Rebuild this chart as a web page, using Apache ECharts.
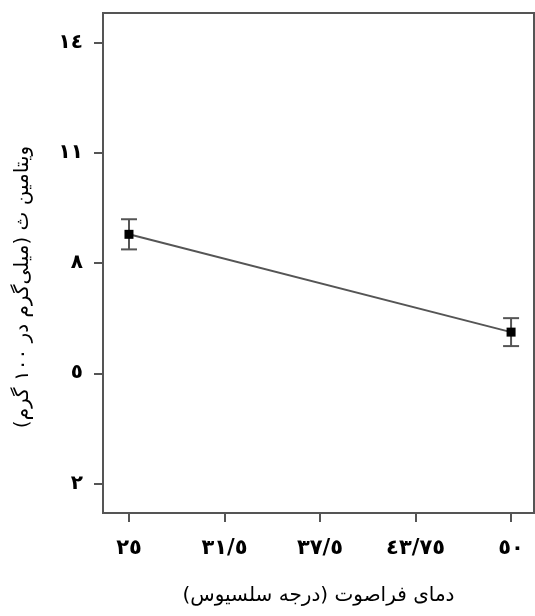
<!DOCTYPE html>
<html>
<head>
<meta charset="utf-8">
<script src="https://cdn.jsdelivr.net/npm/echarts@6/dist/echarts.min.js"></script>
<style>
html, body { margin: 0; padding: 0; background: #fff; }
#chart { width: 535px; height: 616px; }
</style>
</head>
<body>
<div id="chart"></div>
<script>
// داده‌ها
var temps = [25, 50];
var vitC = [8.78, 6.12];
var vitErr = [0.41, 0.38];
var xTicks = [25, 31.25, 37.5, 43.75, 50];
var xTickLabels = ['٢٥', '٣١/٥', '٣٧/٥', '٤٣/٧٥', '٥٠'];
var yTicks = [2, 5, 8, 11, 14];
var yTickLabels = ['٢', '٥', '٨', '١١', '١٤'];
var xTitle = '\u200Fدمای فراصوت (درجه سلسیوس)\u200F';
var yTitle = '\u200Fویتامین ث (میلی‌گرم در ۱۰۰ گرم)\u200F';

var gray = '#555';
var lineData = [];
var errData = [];
for (var i = 0; i < temps.length; i++) {
	lineData.push([temps[i], vitC[i]]);
	errData.push([temps[i], vitC[i] - vitErr[i], vitC[i] + vitErr[i]]);
}

function labelOf(ticks, labels) {
	return function (v) {
		for (var i = 0; i < ticks.length; i++) {
			if (Math.abs(ticks[i] - v) < 1e-6) return labels[i];
		}
		return '';
	};
}

var myChart = echarts.init(document.getElementById('chart'));
var option = {
	animation: false,
	grid: {
		left: 103, right: 1, top: 13, bottom: 103,
		show: true, borderColor: gray, borderWidth: 2, backgroundColor: '#fff'
	},
	xAxis: {
		type: 'value', min: 23.3, max: 51.5,
		name: xTitle, nameLocation: 'middle', nameGap: 73,
		nameTextStyle: { fontFamily: 'DejaVu Sans', fontSize: 20, color: '#000' },
		axisLine: { show: false },
		splitLine: { show: false },
		axisTick: { show: true, customValues: xTicks, length: 9, lineStyle: { color: gray, width: 2 } },
		axisLabel: {
			customValues: xTicks, margin: 25, formatter: labelOf(xTicks, xTickLabels),
			fontFamily: 'DejaVu Sans', fontWeight: 'bold', fontSize: 21, color: '#000'
		}
	},
	yAxis: {
		type: 'value', min: 1.2, max: 14.8,
		name: yTitle, nameLocation: 'middle', nameGap: 70, nameRotate: 90,
		nameTextStyle: { fontFamily: 'DejaVu Sans', fontSize: 20, color: '#000', padding: [0, 48, 0, 0] },
		axisLine: { show: false },
		splitLine: { show: false },
		axisTick: { show: true, customValues: yTicks, length: 9, lineStyle: { color: gray, width: 2 } },
		axisLabel: {
			customValues: yTicks, margin: 20, formatter: labelOf(yTicks, yTickLabels),
			fontFamily: 'DejaVu Sans', fontWeight: 'bold', fontSize: 20, color: '#000'
		}
	},
	series: [
		{
			type: 'line',
			data: lineData,
			symbol: 'rect',
			symbolSize: 9,
			itemStyle: { color: '#000' },
			lineStyle: { color: gray, width: 2 },
			z: 3
		},
		{
			type: 'custom',
			data: errData,
			z: 2,
			renderItem: function (params, api) {
				var x = api.value(0);
				var lo = api.coord([x, api.value(1)]);
				var hi = api.coord([x, api.value(2)]);
				var w = 8;
				var st = { stroke: gray, lineWidth: 2 };
				return {
					type: 'group',
					children: [
						{ type: 'line', shape: { x1: lo[0], y1: lo[1], x2: hi[0], y2: hi[1] }, style: st },
						{ type: 'line', shape: { x1: lo[0] - w, y1: lo[1], x2: lo[0] + w, y2: lo[1] }, style: st },
						{ type: 'line', shape: { x1: hi[0] - w, y1: hi[1], x2: hi[0] + w, y2: hi[1] }, style: st }
					]
				};
			}
		}
	]
};
myChart.setOption(option);
</script>
</body>
</html>
